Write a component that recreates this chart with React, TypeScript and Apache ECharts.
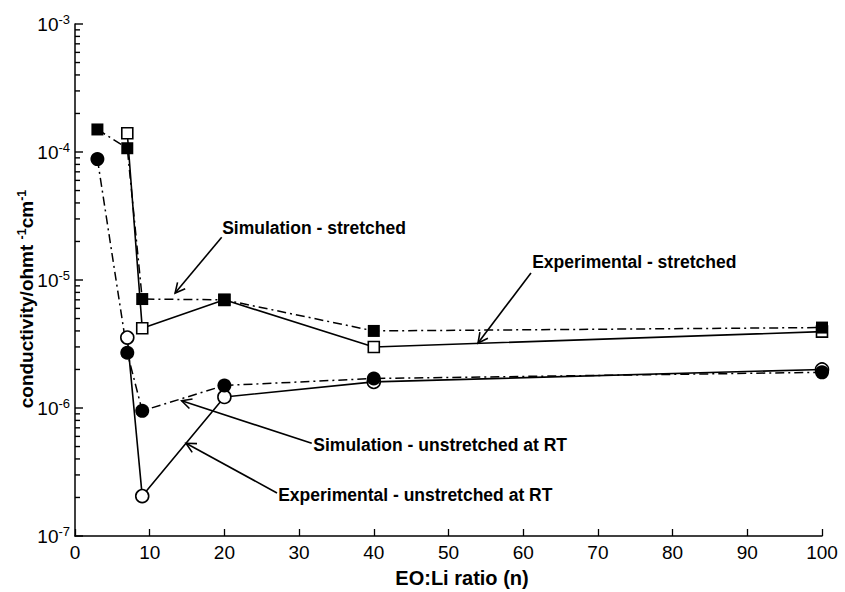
import React, { useEffect, useRef } from "react";
import * as echarts from "echarts";

// ---------- data ----------
const xTickValues = [0, 10, 20, 30, 40, 50, 60, 70, 80, 90, 100];
const yMajorTicks = [1e-7, 1e-6, 1e-5, 1e-4, 1e-3];
const yMinorMultipliers = [2, 3, 4, 5, 6, 7, 8, 9];

const simStretchedX = [3, 7, 9, 20, 40, 100];
const simStretchedY = [1.5e-4, 1.07e-4, 7.1e-6, 7.0e-6, 4.0e-6, 4.25e-6];

const expStretchedX = [7, 9, 20, 40, 100];
const expStretchedY = [1.4e-4, 4.2e-6, 7.0e-6, 3.0e-6, 3.95e-6];

const simUnstretchedX = [3, 7, 9, 20, 40, 100];
const simUnstretchedY = [8.8e-5, 2.7e-6, 9.5e-7, 1.5e-6, 1.7e-6, 1.9e-6];

const expUnstretchedX = [7, 9, 20, 40, 100];
const expUnstretchedY = [3.55e-6, 2.05e-7, 1.22e-6, 1.6e-6, 2.0e-6];

const annotationTexts = [
  "Simulation - stretched",
  "Experimental - stretched",
  "Simulation - unstretched at RT",
  "Experimental - unstretched at RT",
];
const annotationTips: [number, number][] = [
  [13.4, 7.9e-6],
  [53.95, 3.22e-6],
  [14.28, 1.14e-6],
  [14.86, 5.3e-7],
];
const annotationTails: [number, number][] = [
  [19.64, 2.16e-5],
  [61.04, 1.135e-5],
  [31.69, 5.3e-7],
  [27.04, 2.17e-7],
];
const annotationTextAt: [number, number][] = [
  [19.7, 2.55e-5],
  [61.2, 1.38e-5],
  [31.9, 5.14e-7],
  [27.2, 2.09e-7],
];

const FONT = "'Liberation Sans', Arial, Helvetica, sans-serif";

const zip = (xs: number[], ys: number[]) => xs.map((x, i) => [x, ys[i]]);

const dashDot = [9, 4, 2, 4];

export default function App() {
  const ref = useRef<HTMLDivElement>(null);

  useEffect(() => {
    if (!ref.current) return;
    const chart = echarts.init(ref.current, null, { renderer: "svg" });

    const minorTicks: number[] = [];
    for (let i = 0; i < yMajorTicks.length - 1; i++) {
      yMinorMultipliers.forEach((m) => minorTicks.push(yMajorTicks[i] * m));
    }
    const allTicks = [
      ...yMajorTicks.map((v) => [v, 1]),
      ...minorTicks.map((v) => [v, 0]),
    ];

    const filled = (data: number[][], symbol: string, size: number) => ({
      type: "line",
      data,
      symbol,
      symbolSize: size,
      showSymbol: true,
      silent: true,
      itemStyle: { color: "#000", borderColor: "#000", borderWidth: 0 },
      lineStyle: { color: "#000", width: 1.5, type: dashDot },
      emphasis: { disabled: true },
    });
    const open = (data: number[][], symbol: string, size: number) => ({
      type: "line",
      data,
      symbol,
      symbolSize: size,
      showSymbol: true,
      silent: true,
      itemStyle: { color: "#fff", borderColor: "#000", borderWidth: 1.6 },
      lineStyle: { color: "#000", width: 1.6, type: "solid" },
      emphasis: { disabled: true },
    });

    const option: any = {
      animation: false,
      backgroundColor: "#fff",
      grid: { left: 75, right: 23, top: 24, bottom: 56 },
      xAxis: {
        type: "value",
        min: xTickValues[0],
        max: xTickValues[xTickValues.length - 1],
        interval: 10,
        axisLine: { lineStyle: { color: "#000", width: 1.5 } },
        axisTick: {
          inside: true,
          length: 7,
          lineStyle: { color: "#000", width: 1.3 },
        },
        axisLabel: {
          color: "#000",
          fontSize: 19,
          fontFamily: FONT,
          margin: 7,
        },
        splitLine: { show: false },
      },
      yAxis: {
        type: "log",
        logBase: 10,
        min: yMajorTicks[0],
        max: yMajorTicks[yMajorTicks.length - 1],
        axisLine: { show: true, lineStyle: { color: "#000", width: 1.5 } },
        axisTick: { show: false },
        axisLabel: {
          color: "#000",
          fontFamily: FONT,
          margin: 5,
          formatter: (v: number) => `{a|10}{b|${Math.round(Math.log10(v))}}`,
          rich: {
            a: { fontSize: 19, fontFamily: FONT, color: "#000", lineHeight: 22 },
            b: {
              fontSize: 13,
              fontFamily: FONT,
              color: "#000",
              verticalAlign: "top",
              lineHeight: 13,
            },
          },
        },
        splitLine: { show: false },
      },
      series: [
        {
          // y-axis ticks (major and minor), drawn inward from the axis line
          type: "custom",
          silent: true,
          clip: false,
          data: allTicks,
          encode: { y: 0 },
          renderItem: (params: any, api: any) => {
            const v = api.value(0);
            const isMajor = api.value(1) === 1;
            const p = api.coord([xTickValues[0], v]);
            const len = isMajor ? 8 : 5;
            return {
              type: "line",
              shape: { x1: p[0], y1: p[1], x2: p[0] + len, y2: p[1] },
              style: { stroke: "#000", lineWidth: 1.4 },
            };
          },
          z: 5,
        },
        open(zip(expStretchedX, expStretchedY), "rect", 11),
        open(zip(expUnstretchedX, expUnstretchedY), "circle", 13),
        filled(zip(simStretchedX, simStretchedY), "rect", 12),
        filled(zip(simUnstretchedX, simUnstretchedY), "circle", 14),
      ],
    };

    chart.setOption(option);

    const toPx = (p: [number, number]) =>
      chart.convertToPixel({ xAxisIndex: 0, yAxisIndex: 0 }, p) as number[];

    const graphics: any[] = [];

    annotationTexts.forEach((text, i) => {
      const tip = toPx(annotationTips[i]);
      const tail = toPx(annotationTails[i]);
      const at = toPx(annotationTextAt[i]);
      graphics.push({
        type: "line",
        silent: true,
        shape: { x1: tail[0], y1: tail[1], x2: tip[0], y2: tip[1] },
        style: { stroke: "#000", lineWidth: 1.6 },
      });
      const ang = Math.atan2(tail[1] - tip[1], tail[0] - tip[0]);
      const len = 11;
      const half = (27 * Math.PI) / 180;
      graphics.push({
        type: "polyline",
        silent: true,
        shape: {
          points: [
            [tip[0] + len * Math.cos(ang + half), tip[1] + len * Math.sin(ang + half)],
            [tip[0], tip[1]],
            [tip[0] + len * Math.cos(ang - half), tip[1] + len * Math.sin(ang - half)],
          ],
        },
        style: { stroke: "#000", lineWidth: 1.6, fill: null },
      });
      graphics.push({
        type: "text",
        silent: true,
        x: at[0],
        y: at[1],
        style: {
          text,
          fill: "#000",
          font: `bold 17.5px ${FONT}`,
          align: "left",
          verticalAlign: "middle",
        },
      });
    });

    graphics.push({
      type: "text",
      silent: true,
      x: 462,
      y: 578,
      style: {
        text: "EO:Li ratio (n)",
        fill: "#000",
        font: `bold 20px ${FONT}`,
        align: "center",
        verticalAlign: "middle",
      },
    });
    graphics.push({
      type: "text",
      silent: true,
      x: 26,
      y: 299,
      rotation: Math.PI / 2,
      style: {
        text: "{m|conductivity/ohmt }{s|-1}{m|cm}{s|-1}",
        align: "center",
        verticalAlign: "middle",
        rich: {
          m: {
            fontSize: 19,
            fontWeight: "bold",
            fontFamily: FONT,
            fill: "#000",
            lineHeight: 22,
          },
          s: {
            fontSize: 12.5,
            fontWeight: "bold",
            fontFamily: FONT,
            fill: "#000",
            verticalAlign: "top",
            lineHeight: 13,
          },
        },
      },
    });

    chart.setOption({ graphic: graphics });

    return () => chart.dispose();
  }, []);

  return (
    <div
      ref={ref}
      style={{ position: "fixed", left: 0, top: 0, width: 845, height: 592, background: "#fff" }}
    />
  );
}
